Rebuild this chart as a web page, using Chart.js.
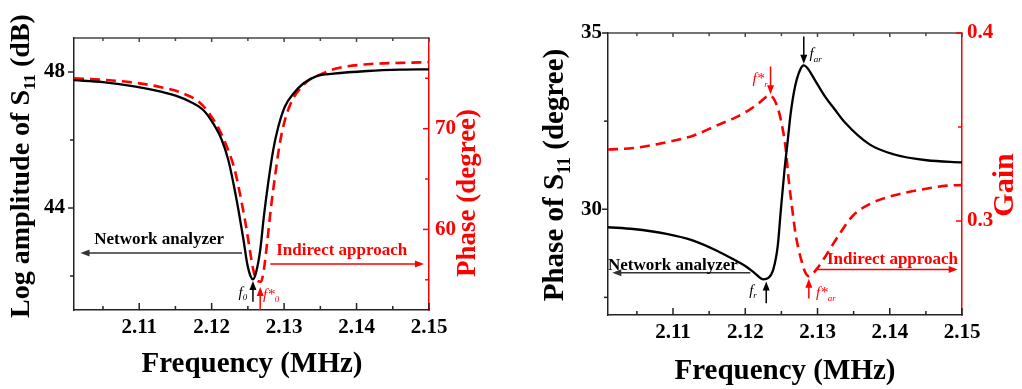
<!DOCTYPE html>
<html>
<head>
<meta charset="utf-8">
<script src="https://cdn.jsdelivr.net/npm/chart.js@4.4.1/dist/chart.umd.min.js"></script>
<style>
  body { margin: 0; background: #fff; width: 1022px; height: 389px; overflow: hidden; position: relative; }
  canvas { position: absolute; top: 0; }
  #amp { left: 0; }
  #phase { left: 515px; }
</style>
</head>
<body>
<canvas id="amp" width="515" height="389"></canvas>
<canvas id="phase" width="507" height="389"></canvas>
<script>
// shared frequency axis (MHz)
const freqTicks = [2.11, 2.12, 2.13, 2.14, 2.15];
const freqMinor = [2.105, 2.115, 2.125, 2.135, 2.145];

// left: |S11| from the network analyzer
const ampFreq = [2.101, 2.105, 2.1095, 2.113, 2.1155, 2.1169, 2.1188, 2.1202, 2.1214, 2.1223, 2.123, 2.1237,
  2.1244, 2.1249, 2.1254, 2.1257, 2.1261, 2.1267, 2.1272, 2.1278, 2.1285, 2.1292, 2.1301, 2.1313, 2.1327,
  2.1345, 2.1368, 2.1415, 2.146, 2.15];
const ampDb = [47.76, 47.70, 47.57, 47.42, 47.27, 47.14, 46.89, 46.49, 46.00, 45.41, 44.73, 43.94,
  43.06, 42.37, 41.98, 41.90, 42.08, 42.76, 43.74, 44.73, 45.71, 46.39, 46.98, 47.37, 47.67,
  47.88, 47.95, 48.03, 48.07, 48.08];
// left: phase from the indirect approach
const phaseFreq = [2.101, 2.105, 2.1095, 2.113, 2.116, 2.1183, 2.1197, 2.1211, 2.1223, 2.1232, 2.1239, 2.1246,
  2.1252, 2.1257, 2.1262, 2.1268, 2.1272, 2.1277, 2.1282, 2.1288, 2.1294, 2.1301, 2.1311, 2.1322, 2.1336,
  2.1348, 2.1368, 2.1415, 2.1461, 2.15];
const phaseDeg = [75.0, 74.85, 74.55, 74.12, 73.52, 72.63, 71.49, 69.83, 67.85, 65.87, 63.56, 60.92,
  58.28, 56.14, 54.98, 54.81, 55.97, 58.94, 62.24, 65.54, 68.51, 70.82, 72.80, 73.96, 74.9,
  75.3, 75.9, 76.4, 76.53, 76.6];
const ampTicks = [44, 48], ampMinor = [42, 46];
const phaseTicks = [60, 70], phaseMinor = [55, 65, 75];

// right: phase of S11 from the network analyzer
const s11Freq = [2.101, 2.1045, 2.1091, 2.1128, 2.116, 2.1186, 2.12, 2.1213, 2.1225, 2.1232, 2.1239, 2.1245,
  2.1249, 2.1254, 2.1259, 2.1263, 2.1269, 2.1276, 2.1281, 2.1287, 2.1296, 2.131, 2.1324, 2.1338, 2.1372,
  2.1405, 2.1451, 2.15];
const s11Phase = [29.49, 29.44, 29.30, 29.11, 28.83, 28.55, 28.39, 28.19, 28.01, 28.05, 28.31, 28.97,
  29.92, 31.05, 31.99, 32.74, 33.49, 33.96, 34.08, 33.98, 33.68, 33.21, 32.83, 32.46, 31.84,
  31.56, 31.39, 31.33];
// right: gain from the indirect approach
const gainFreq = [2.101, 2.1045, 2.1091, 2.1128, 2.116, 2.1186, 2.1204, 2.122, 2.1234, 2.1243, 2.125, 2.1256,
  2.126, 2.1265, 2.127, 2.1276, 2.1283, 2.1288, 2.1299, 2.1313, 2.1329, 2.1349, 2.1372, 2.1405, 2.1442,
  2.1479, 2.15];
const gainVal = [0.338, 0.3388, 0.3419, 0.3454, 0.3507, 0.355, 0.3587, 0.3631, 0.3668, 0.3622, 0.3525, 0.3383,
  0.3223, 0.3064, 0.2922, 0.2815, 0.2727, 0.2706, 0.2745, 0.2824, 0.2922, 0.3028, 0.3090, 0.3135, 0.3166,
  0.3188, 0.3191];
const s11Ticks = [30, 35], s11Minor = [27.5, 32.5];
const gainTicks = [0.3, 0.4], gainMinor = [0.35];

const SERIF = '"Liberation Serif", "Times New Roman", serif';
const RED = '#ff0000';

const pts = (xs, ys) => xs.map((x, i) => ({ x, y: ys[i] }));

function drawRich(ctx, parts, x, y, o) {
  const size = p => p[1] === 'sub' ? Math.round(o.size * 0.62) : o.size;
  const fonts = parts.map(p => `${o.style || 'normal'} ${o.weight || 'normal'} ${size(p)}px ${SERIF}`);
  let w = 0;
  parts.forEach((p, i) => { ctx.font = fonts[i]; w += ctx.measureText(p[0]).width; });
  let cx = o.align === 'center' ? x - w / 2 : o.align === 'right' ? x - w : x;
  ctx.fillStyle = o.color || '#000';
  ctx.textBaseline = 'middle';
  ctx.textAlign = 'left';
  parts.forEach((p, i) => {
    ctx.font = fonts[i];
    ctx.fillText(p[0], cx, y + (p[1] === 'sub' ? o.size * 0.32 : 0));
    cx += ctx.measureText(p[0]).width;
  });
}

function arrow(ctx, x1, y1, x2, y2, color) {
  const ang = Math.atan2(y2 - y1, x2 - x1), L = 9, H = 3.5;
  ctx.strokeStyle = color; ctx.fillStyle = color; ctx.lineWidth = 1.5;
  ctx.beginPath();
  ctx.moveTo(x1, y1);
  ctx.lineTo(x2 - Math.cos(ang) * L * 0.8, y2 - Math.sin(ang) * L * 0.8);
  ctx.stroke();
  ctx.beginPath();
  ctx.moveTo(x2, y2);
  ctx.lineTo(x2 - Math.cos(ang) * L - Math.sin(ang) * H, y2 - Math.sin(ang) * L + Math.cos(ang) * H);
  ctx.lineTo(x2 - Math.cos(ang) * L + Math.sin(ang) * H, y2 - Math.sin(ang) * L - Math.cos(ang) * H);
  ctx.closePath();
  ctx.fill();
}

// frame, tick marks, axis titles and arrow annotations
const decoPlugin = {
  id: 'deco',
  afterDraw(chart, args, opts) {
    const ctx = chart.ctx, a = chart.chartArea;
    const sx = chart.scales.x, sy = chart.scales.y, sr = chart.scales.y2;
    ctx.save();
    ctx.lineWidth = 1.5;
    ctx.strokeStyle = '#444';
    ctx.beginPath(); ctx.moveTo(a.left, a.top); ctx.lineTo(a.right, a.top); ctx.stroke();

    const tick = (x1, y1, x2, y2, c) => {
      ctx.strokeStyle = c; ctx.beginPath(); ctx.moveTo(x1, y1); ctx.lineTo(x2, y2); ctx.stroke();
    };
    [[freqTicks, 7, 4], [freqMinor, 4, 3]].forEach(([vals, lb, lt]) => vals.forEach(v => {
      const px = sx.getPixelForValue(v);
      tick(px, a.bottom, px, a.bottom - lb, '#222');
      tick(px, a.top, px, a.top + lt, '#444');
    }));
    [[opts.leftTicks, 6], [opts.leftMinor, 4]].forEach(([vals, l]) => vals.forEach(v => {
      const py = sy.getPixelForValue(v);
      tick(a.left, py, a.left - l, py, '#222');
    }));
    [[opts.rightTicks, 6], [opts.rightMinor, 4]].forEach(([vals, l]) => vals.forEach(v => {
      const py = sr.getPixelForValue(v);
      tick(a.right, py, a.right - l, py, RED);
    }));

    opts.titles.forEach(t => {
      ctx.save();
      ctx.translate(t.x, t.y);
      if (t.rot) ctx.rotate(-Math.PI / 2);
      drawRich(ctx, t.parts, 0, 0, { size: t.size, weight: 'bold', color: t.color, align: 'center' });
      ctx.restore();
    });

    opts.arrows.forEach(r => {
      arrow(ctx, sx.getPixelForValue(r.x1), sy.getPixelForValue(r.y1),
        sx.getPixelForValue(r.x2), sy.getPixelForValue(r.y2), r.color);
    });
    opts.labels.forEach(l => {
      drawRich(ctx, l.parts, sx.getPixelForValue(l.x), sy.getPixelForValue(l.y),
        { size: l.size, weight: l.weight, style: l.style, color: l.color, align: l.align });
    });
    ctx.restore();
  }
};

function fixTicks(vals) {
  return s => { s.ticks = vals.map(value => ({ value })); };
}

function makeChart(id, cfg) {
  const tickFont = { family: SERIF, weight: 'bold', size: 21 };
  const noGrid = { display: false, drawTicks: false };
  return new Chart(document.getElementById(id), {
    type: 'line',
    data: {
      datasets: [
        { data: cfg.black, yAxisID: 'y', borderColor: '#000', borderWidth: 2.3, pointRadius: 0,
          cubicInterpolationMode: 'monotone' },
        { data: cfg.red, yAxisID: 'y2', borderColor: RED, borderWidth: 2.6, borderDash: [10, 6], pointRadius: 0,
          cubicInterpolationMode: 'monotone' },
      ],
    },
    options: {
      responsive: false,
      devicePixelRatio: 1,
      animation: false,
      layout: { padding: { top: cfg.top, left: 0, right: 0, bottom: 0 } },
      plugins: { legend: { display: false }, tooltip: { enabled: false }, deco: cfg.deco },
      scales: {
        x: {
          type: 'linear', min: 2.101, max: 2.15,
          afterBuildTicks: fixTicks(freqTicks),
          afterFit: s => { s.height = cfg.xHeight; },
          grid: noGrid,
          border: { color: '#222', width: 1.5 },
          ticks: { font: tickFont, color: '#000', padding: cfg.xPad, maxRotation: 0, callback: v => v.toFixed(2) },
        },
        y: {
          position: 'left', min: cfg.yMin, max: cfg.yMax,
          afterBuildTicks: fixTicks(cfg.deco.leftTicks),
          afterFit: s => { s.width = cfg.leftW; },
          grid: noGrid,
          border: { color: '#222', width: 1.5 },
          ticks: { font: tickFont, color: '#000', padding: cfg.lPad },
        },
        y2: {
          position: 'right', min: cfg.rMin, max: cfg.rMax,
          afterBuildTicks: fixTicks(cfg.deco.rightTicks),
          afterFit: s => { s.width = cfg.rightW; },
          grid: noGrid,
          border: { color: RED, width: 1.5 },
          ticks: { font: tickFont, color: RED, padding: cfg.rPad, callback: cfg.rFmt },
        },
      },
    },
    plugins: [decoPlugin],
  });
}

makeChart('amp', {
  black: pts(ampFreq, ampDb),
  red: pts(phaseFreq, phaseDeg),
  top: 38, xHeight: 79, leftW: 74, rightW: 86, xPad: 5, lPad: 9, rPad: 6,
  yMin: 41, yMax: 49, rMin: 52, rMax: 79,
  rFmt: v => String(v),
  deco: {
    leftTicks: ampTicks, leftMinor: ampMinor, rightTicks: phaseTicks, rightMinor: phaseMinor,
    titles: [
      { parts: [['Log amplitude of S'], ['11', 'sub'], [' (dB)']], x: 22, y: 166, rot: true, size: 28, color: '#000' },
      { parts: [['Phase (degree)']], x: 468, y: 193, rot: true, size: 27, color: RED },
      { parts: [['Frequency (MHz)']], x: 252, y: 365, size: 29, color: '#000' },
    ],
    arrows: [
      { x1: 2.1242, y1: 42.68, x2: 2.1019, y2: 42.68, color: '#333' },
      { x1: 2.1281, y1: 42.35, x2: 2.1493, y2: 42.35, color: RED },
      { x1: 2.1257, y1: 41.24, x2: 2.1257, y2: 41.85, color: '#000' },
      { x1: 2.1267, y1: 41.0, x2: 2.1267, y2: 41.68, color: RED },
    ],
    labels: [
      { parts: [['Network analyzer']], x: 2.1038, y: 43.06, align: 'left', size: 17, weight: 'bold', color: '#000' },
      { parts: [['Indirect approach']], x: 2.1289, y: 42.76, align: 'left', size: 17, weight: 'bold', color: RED },
      { parts: [['f'], ['0', 'sub']], x: 2.1249, y: 41.5, align: 'right', size: 15, style: 'italic', color: '#000' },
      { parts: [['f*'], ['0', 'sub']], x: 2.1271, y: 41.44, align: 'left', size: 15, style: 'italic', color: RED },
    ],
  },
});

makeChart('phase', {
  black: pts(s11Freq, s11Phase),
  red: pts(gainFreq, gainVal),
  top: 33, xHeight: 74, leftW: 93, rightW: 60, xPad: 5, lPad: 6, rPad: 5,
  yMin: 27, yMax: 35, rMin: 0.25, rMax: 0.4,
  rFmt: v => v.toFixed(1),
  deco: {
    leftTicks: s11Ticks, leftMinor: s11Minor, rightTicks: gainTicks, rightMinor: gainMinor,
    titles: [
      { parts: [['Phase of S'], ['11', 'sub'], [' (degree)']], x: 41, y: 175, rot: true, size: 29, color: '#000' },
      { parts: [['Gain']], x: 490, y: 185, rot: true, size: 30, color: RED },
      { parts: [['Frequency (MHz)']], x: 270, y: 372, size: 29, color: '#000' },
    ],
    arrows: [
      { x1: 2.1281, y1: 34.9, x2: 2.1281, y2: 34.13, color: '#000' },
      { x1: 2.1235, y1: 34.05, x2: 2.1235, y2: 33.26, color: RED },
      { x1: 2.1207, y1: 28.2, x2: 2.1016, y2: 28.2, color: '#333' },
      { x1: 2.1229, y1: 27.33, x2: 2.1229, y2: 27.95, color: '#000' },
      { x1: 2.1298, y1: 28.29, x2: 2.1494, y2: 28.29, color: RED },
      { x1: 2.1288, y1: 27.47, x2: 2.1288, y2: 28.03, color: RED },
    ],
    labels: [
      { parts: [['f'], ['ar', 'sub']], x: 2.1289, y: 34.39, align: 'left', size: 15, style: 'italic', color: '#000' },
      { parts: [['f*'], ['r', 'sub']], x: 2.1231, y: 33.68, align: 'right', size: 15, style: 'italic', color: RED },
      { parts: [['Network analyzer']], x: 2.1010, y: 28.40, align: 'left', size: 17, weight: 'bold', color: '#000' },
      { parts: [['f'], ['r', 'sub']], x: 2.1216, y: 27.69, align: 'right', size: 15, style: 'italic', color: '#000' },
      { parts: [['Indirect approach']], x: 2.1313, y: 28.57, align: 'left', size: 17, weight: 'bold', color: RED },
      { parts: [['f*'], ['ar', 'sub']], x: 2.1298, y: 27.61, align: 'left', size: 15, style: 'italic', color: RED },
    ],
  },
});
</script>
</body>
</html>
